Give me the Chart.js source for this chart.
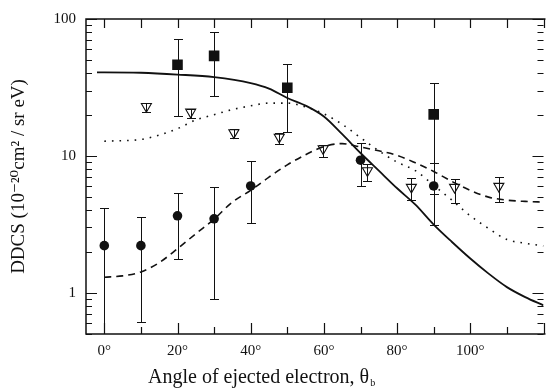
<!DOCTYPE html>
<html>
<head>
<meta charset="utf-8">
<script src="https://cdn.jsdelivr.net/npm/chart.js@4.4.0/dist/chart.umd.min.js"></script>
<style>
  html, body { margin: 0; padding: 0; background: #fff; }
</style>
</head>
<body>
<canvas id="ddcsChart" width="551" height="390"></canvas>
<script>
// Góc (độ) và DDCS (10^-20 cm^2 / sr eV)
const squareAngles = [20, 30, 50, 90];
const squareValues = [46.3, 53.8, 31.5, 20.1];
const squareHi = [71.5, 80.4, 47.1, 34.3];
const squareLo = [19.7, 27.6, 14.9, 5.3];

const circleAngles = [0, 10, 20, 30, 40, 70, 90];
const circleValues = [2.21, 2.21, 3.65, 3.47, 6.03, 9.3, 6.03];
const circleHi = [4.17, 3.59, 5.36, 5.93, 9.15, 12.4, 8.85];
const circleLo = [0.3, 0.61, 1.78, 0.90, 3.25, 6.03, 3.14];

const triAngles = [11.5, 23.6, 35.4, 47.8, 59.8, 71.9, 83.9, 95.7, 107.8];
const triValues = [23.0, 20.9, 14.8, 13.7, 11.3, 7.8, 5.9, 5.9, 6.0];
const triHi = [24.2, 22.0, 15.6, 14.6, 12.0, 8.7, 6.9, 6.8, 7.0];
const triLo = [21.0, 19.0, 13.6, 12.2, 9.8, 6.55, 4.76, 4.53, 4.6];

// Đường lý thuyết
const solidAngles = [-2, 0, 10, 20, 30, 40, 45, 50, 55, 60, 65, 70, 75, 80, 85, 90, 95, 100, 105, 110, 115, 120];
const solidValues = [40.8, 40.8, 40.5, 39.3, 37.6, 34, 31, 26.5, 23.3, 19.4, 14.4, 10.5, 7.8, 5.8, 4.4, 3.15, 2.35, 1.78, 1.38, 1.1, 0.93, 0.81];

const dottedAngles = [0, 10, 15, 20, 25, 30, 35, 40, 45, 50, 55, 60, 65, 70, 75, 80, 85, 90, 95, 100, 105, 110, 115, 120];
const dottedValues = [12.8, 13.2, 14.2, 15.8, 18.3, 20.0, 21.8, 23.2, 24.3, 24.3, 22.8, 20.3, 17.0, 13.6, 10.9, 9.0, 7.8, 6.1, 4.75, 3.65, 2.95, 2.45, 2.3, 2.2];

const dashedAngles = [0, 5, 10, 15, 20, 25, 30, 35, 40, 45, 50, 55, 60, 65, 70, 75, 80, 85, 90, 95, 100, 105, 110, 115, 120];
const dashedValues = [1.3, 1.33, 1.42, 1.66, 2.1, 2.7, 3.45, 4.6, 5.6, 7.0, 8.6, 10.2, 11.7, 12.3, 11.6, 10.9, 10.1, 8.9, 7.7, 6.5, 5.6, 5.0, 4.75, 4.65, 4.6];

// Nhãn trục
const xTickLabels = [0, 20, 40, 60, 80, 100];
const yTickLabels = [1, 10, 100];

const serif = '"Liberation Serif", "DejaVu Serif", serif';
const ink = '#111';

function pts(xs, ys) {
  return xs.map((x, i) => ({ x: x, y: ys[i] }));
}

// Vẽ khung, vạch chia hướng vào trong và thanh sai số
const framePlugin = {
  id: 'framePlugin',
  afterDatasetsDraw(chart) {
    const ctx = chart.ctx;
    const a = chart.chartArea;
    const xs = chart.scales.x, ys = chart.scales.y;
    ctx.save();

    // thanh sai số
    ctx.save();
    ctx.beginPath();
    ctx.rect(a.left, a.top, a.right - a.left, a.bottom - a.top);
    ctx.clip();
    ctx.strokeStyle = ink;
    ctx.lineWidth = 1;
    chart.data.datasets.forEach(ds => {
      if (!ds.errHi) return;
      ds.data.forEach((p, i) => {
        const px = Math.round(xs.getPixelForValue(p.x)) + 0.5;
        const top = Math.round(ys.getPixelForValue(ds.errHi[i])) + 0.5;
        const bot = Math.round(ys.getPixelForValue(ds.errLo[i])) + 0.5;
        ctx.beginPath();
        ctx.moveTo(px, top); ctx.lineTo(px, bot);
        ctx.moveTo(px - 4.5, top); ctx.lineTo(px + 4.5, top);
        ctx.moveTo(px - 4.5, bot); ctx.lineTo(px + 4.5, bot);
        ctx.stroke();
      });
    });
    ctx.restore();

    // khung
    ctx.strokeStyle = ink;
    ctx.lineWidth = 1.5;
    ctx.beginPath();
    ctx.moveTo(a.right + 2, a.top);
    ctx.lineTo(a.left, a.top);
    ctx.lineTo(a.left, a.bottom);
    ctx.lineTo(a.right + 2, a.bottom);
    ctx.stroke();

    // vạch trục x
    ctx.lineWidth = 1.2;
    ctx.beginPath();
    for (let v = 0; v <= 120; v += 10) {
      const px = Math.round(xs.getPixelForValue(v)) + 0.5;
      const major = v % 20 === 0;
      ctx.moveTo(px, a.bottom); ctx.lineTo(px, a.bottom - (major ? 11 : 7));
      ctx.moveTo(px, a.top); ctx.lineTo(px, a.top + 9);
    }
    // vạch trục y (log)
    for (let d = 0.1; d < 100; d *= 10) {
      for (let m = 1; m <= 10; m++) {
        const v = d * m;
        if (v < ys.min || v > ys.max) continue;
        const py = Math.round(ys.getPixelForValue(v)) + 0.5;
        const major = yTickLabels.some(t => Math.abs(t - v) < 1e-6);
        const len = major ? 11 : 6;
        ctx.moveTo(a.left, py); ctx.lineTo(a.left + len, py);
        ctx.moveTo(a.right, py); ctx.lineTo(a.right - len, py);
      }
    }
    ctx.stroke();

    // tiêu đề trục x (có chỉ số dưới b)
    ctx.fillStyle = ink;
    ctx.textBaseline = 'alphabetic';
    ctx.textAlign = 'left';
    ctx.font = '20px ' + serif;
    const main = 'Angle of ejected electron, θ';
    const tx = 148, ty = 383;
    ctx.fillText(main, tx, ty);
    const w = ctx.measureText(main).width;
    ctx.font = '10px ' + serif;
    ctx.fillText('b', tx + w + 1, ty + 3);
    ctx.restore();
  }
};

const ctx = document.getElementById('ddcsChart').getContext('2d');
const ddcsChart = new Chart(ctx, {
  type: 'scatter',
  data: {
    datasets: [
      {
        label: 'squares',
        data: pts(squareAngles, squareValues),
        errHi: squareHi, errLo: squareLo,
        pointStyle: 'rect', pointRadius: 7.5,
        backgroundColor: ink, borderColor: ink, borderWidth: 0,
        order: 0
      },
      {
        label: 'circles',
        data: pts(circleAngles, circleValues),
        errHi: circleHi, errLo: circleLo,
        pointStyle: 'circle', pointRadius: 4.8,
        backgroundColor: ink, borderColor: ink, borderWidth: 0,
        order: 0
      },
      {
        label: 'triangles',
        data: pts(triAngles, triValues),
        errHi: triHi, errLo: triLo,
        pointStyle: 'triangle', pointRotation: 180, pointRadius: 5.8,
        backgroundColor: 'rgba(255,255,255,0)', borderColor: ink, borderWidth: 1.1,
        order: 0
      },
      {
        label: 'solid',
        data: pts(solidAngles, solidValues),
        showLine: true, pointRadius: 0,
        borderColor: ink, borderWidth: 1.8,
        cubicInterpolationMode: 'monotone',
        order: 1
      },
      {
        label: 'dotted',
        data: pts(dottedAngles, dottedValues),
        showLine: true, pointRadius: 0,
        borderColor: ink, borderWidth: 1.6, borderDash: [1.6, 6],
        cubicInterpolationMode: 'monotone',
        order: 1
      },
      {
        label: 'dashed',
        data: pts(dashedAngles, dashedValues),
        showLine: true, pointRadius: 0,
        borderColor: ink, borderWidth: 1.6, borderDash: [7, 5],
        cubicInterpolationMode: 'monotone',
        order: 1
      }
    ]
  },
  options: {
    responsive: false,
    animation: false,
    devicePixelRatio: 1,
    layout: { padding: { top: 17, left: 0, right: 0, bottom: 0 } },
    plugins: { legend: { display: false }, tooltip: { enabled: false } },
    scales: {
      x: {
        type: 'linear', min: -5, max: 120,
        afterBuildTicks: s => { s.ticks = xTickLabels.map(v => ({ value: v })); },
        afterFit: s => { s.height = 56; },
        ticks: {
          callback: v => v + '°',
          color: ink, padding: 8, maxRotation: 0, autoSkip: false,
          font: { family: serif, size: 15 }
        },
        grid: { display: false, drawTicks: false },
        border: { display: false }
      },
      y: {
        type: 'logarithmic', min: 0.5, max: 100,
        afterBuildTicks: s => { s.ticks = yTickLabels.map(v => ({ value: v })); },
        afterFit: s => { s.width = 86; },
        ticks: {
          callback: v => String(v),
          color: ink, padding: 10,
          font: { family: serif, size: 15 }
        },
        grid: { display: false, drawTicks: false },
        border: { display: false },
        title: {
          display: true,
          text: 'DDCS (10⁻²⁰cm² / sr eV)',
          color: ink,
          font: { family: serif, size: 19 },
          padding: { top: 8, bottom: 0 }
        }
      }
    }
  },
  plugins: [framePlugin]
});
</script>
</body>
</html>
